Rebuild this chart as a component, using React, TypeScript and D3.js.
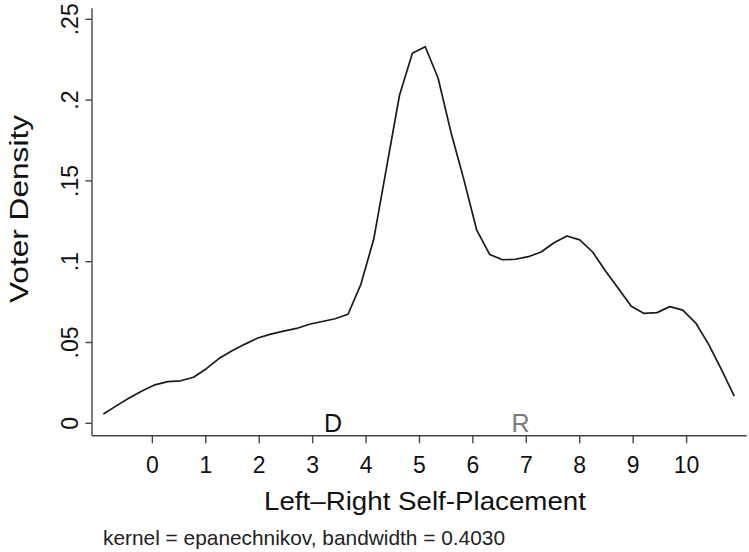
import React from "react";
import * as d3 from "d3";

const xGrid = [
  -0.917, -0.676, -0.435, -0.194, 0.047, 0.288, 0.529, 0.77, 1.011, 1.252,
  1.493, 1.734, 1.975, 2.216, 2.457, 2.698, 2.939, 3.18, 3.421, 3.662,
  3.903, 4.144, 4.385, 4.626, 4.867, 5.108, 5.349, 5.59, 5.831, 6.072,
  6.313, 6.554, 6.795, 7.036, 7.277, 7.518, 7.759, 8.0, 8.241, 8.482,
  8.723, 8.964, 9.205, 9.446, 9.687, 9.928, 10.169, 10.41, 10.651, 10.892,
];
const density = [
  0.0058, 0.0108, 0.0157, 0.02, 0.0238, 0.0258, 0.0263, 0.0285, 0.0338, 0.0402,
  0.0449, 0.049, 0.0528, 0.0552, 0.057, 0.0587, 0.0613, 0.063, 0.0647, 0.0675,
  0.086, 0.114, 0.1585, 0.203, 0.229, 0.233, 0.2135, 0.18, 0.1508, 0.1195,
  0.1045, 0.1012, 0.1015, 0.1031, 0.106, 0.1117, 0.1159, 0.1135, 0.106, 0.0943,
  0.0834, 0.0725, 0.068, 0.0685, 0.0722, 0.07, 0.0622, 0.049, 0.0333, 0.0168,
];
const xTicks = [0, 1, 2, 3, 4, 5, 6, 7, 8, 9, 10];
const yTicks = [0, 0.05, 0.1, 0.15, 0.2, 0.25];
const yTickLabels = ["0", ".05", ".1", ".15", ".2", ".25"];
const partyLabels = ["D", "R"];
const partyPositions = [3.38, 6.89];
const partyColors = ["#111111", "#7a7a7a"];

const FONT = "'Liberation Sans', Arial, Helvetica, sans-serif";

export default function App() {
  const W = 749;
  const H = 552;
  const x = d3.scaleLinear().domain([-1.13, 11.125]).range([92, 746.7]);
  const y = d3.scaleLinear().domain([-0.00767, 0.2568]).range([435.7, 8.3]);
  const line = d3
    .line<number>()
    .x((_, i) => x(xGrid[i]))
    .y((d) => y(d));
  const [x0, x1] = x.range();
  const [yb, yt] = y.range();
  return (
    <svg
      width={W}
      height={H}
      style={{ position: "absolute", left: 0, top: 0, background: "#fff" }}
      fontFamily={FONT}
    >
      <rect x={0} y={0} width={W} height={H} fill="#fff" />
      {/* axes */}
      <line x1={x0} x2={x0} y1={yt} y2={yb} stroke="#444" strokeWidth={1.4} />
      <line x1={x0} x2={x1} y1={yb} y2={yb} stroke="#444" strokeWidth={1.4} />
      {xTicks.map((t) => (
        <g key={"xt" + t}>
          <line x1={x(t)} x2={x(t)} y1={yb} y2={yb + 7.5} stroke="#444" strokeWidth={1.4} />
          <text x={x(t)} y={473.3} fontSize={23} textAnchor="middle" fill="#111">
            {t}
          </text>
        </g>
      ))}
      {yTicks.map((t, i) => (
        <g key={"yt" + t}>
          <line x1={x0 - 6.5} x2={x0} y1={y(t)} y2={y(t)} stroke="#444" strokeWidth={1.4} />
          <text
            transform={`translate(${70},${y(t)}) rotate(-90)`}
            fontSize={23}
            textAnchor="middle"
            dy="0.36em"
            fill="#111"
          >
            {yTickLabels[i]}
          </text>
        </g>
      ))}
      {/* density line */}
      <path d={line(density) || ""} fill="none" stroke="#1a1a1a" strokeWidth={1.7} strokeLinejoin="round" />
      {/* party labels */}
      {partyLabels.map((p, i) => (
        <text
          key={p}
          x={x(partyPositions[i])}
          y={431.8}
          fontSize={25}
          textAnchor="middle"
          fill={partyColors[i]}
        >
          {p}
        </text>
      ))}
      {/* titles */}
      <text
        x={425}
        y={510}
        fontSize={25.5}
        textAnchor="middle"
        fill="#111"
        textLength={322}
        lengthAdjust="spacingAndGlyphs"
      >
        Left–Right Self-Placement
      </text>
      <text
        transform={`translate(28,209) rotate(-90)`}
        fontSize={25.5}
        textAnchor="middle"
        fill="#111"
        textLength={188}
        lengthAdjust="spacingAndGlyphs"
      >
        Voter Density
      </text>
      <text
        x={103}
        y={545}
        fontSize={21}
        fill="#222"
        textLength={402}
        lengthAdjust="spacingAndGlyphs"
      >
        kernel = epanechnikov, bandwidth = 0.4030
      </text>
    </svg>
  );
}
